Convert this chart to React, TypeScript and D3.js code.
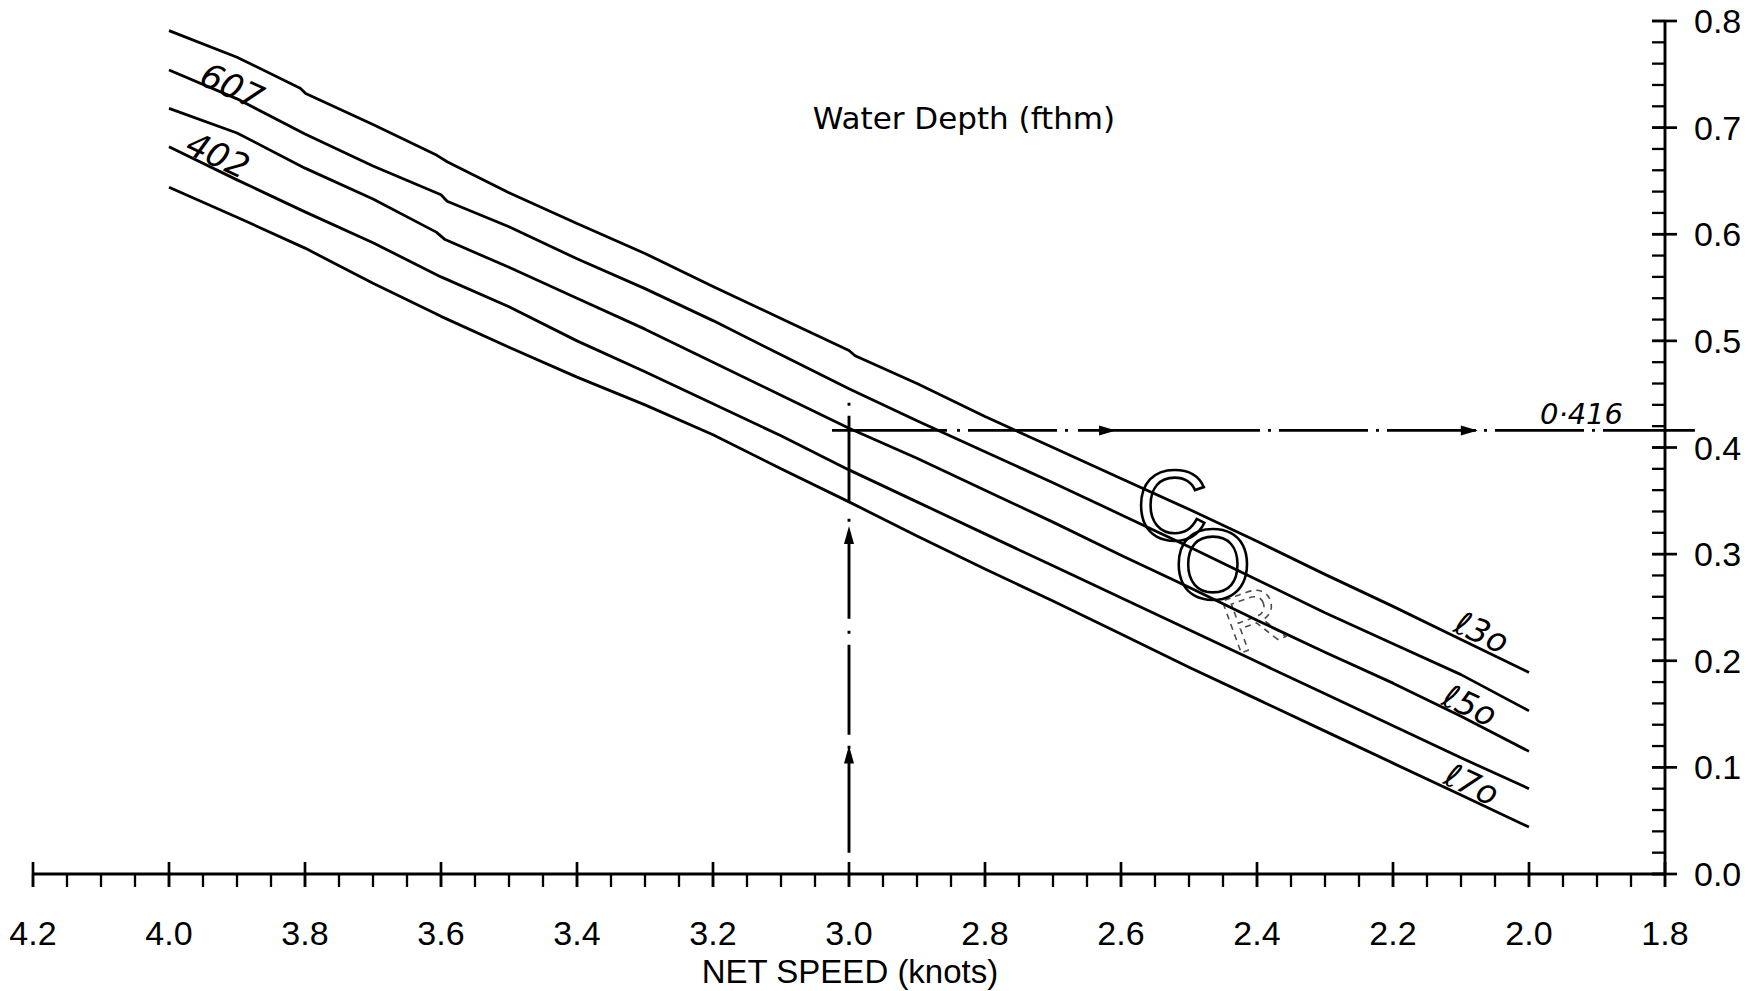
import React from "react";
import * as d3 from "d3";

// ---- axis ticks ----
const xTickValues = [4.2, 4.0, 3.8, 3.6, 3.4, 3.2, 3.0, 2.8, 2.6, 2.4, 2.2, 2.0, 1.8];
const xTickLabels = ["4.2", "4.0", "3.8", "3.6", "3.4", "3.2", "3.0", "2.8", "2.6", "2.4", "2.2", "2.0", "1.8"];
const yTickValues = [0.0, 0.1, 0.2, 0.3, 0.4, 0.5, 0.6, 0.7, 0.8];
const yTickLabels = ["0.0", "0.1", "0.2", "0.3", "0.4", "0.5", "0.6", "0.7", "0.8"];

// ---- curves (net speed in knots, y value) ----
const lineAx = [4.0, 3.9, 3.807, 3.799, 3.7, 3.606, 3.591, 3.5, 3.4, 3.3, 3.2, 3.1, 3.0, 2.991, 2.9, 2.8, 2.7, 2.6, 2.5, 2.4, 2.3, 2.2, 2.1, 2.0];
const lineAy = [0.791, 0.766, 0.737, 0.732, 0.703, 0.674, 0.668, 0.639, 0.610, 0.582, 0.551, 0.521, 0.491, 0.486, 0.460, 0.429, 0.400, 0.371, 0.342, 0.312, 0.281, 0.251, 0.220, 0.189];

const lineBx = [4.0, 3.9, 3.8, 3.7, 3.6, 3.591, 3.5, 3.4, 3.3, 3.2, 3.1, 3.0, 2.9, 2.8, 2.7, 2.6, 2.5, 2.4, 2.3, 2.2, 2.1, 2.0];
const lineBy = [0.754, 0.727, 0.694, 0.664, 0.637, 0.631, 0.607, 0.577, 0.549, 0.519, 0.487, 0.455, 0.425, 0.396, 0.367, 0.337, 0.307, 0.276, 0.245, 0.216, 0.187, 0.153];

const lineCx = [4.0, 3.9, 3.8, 3.7, 3.607, 3.594, 3.5, 3.4, 3.3, 3.2, 3.1, 3.0, 2.9, 2.8, 2.7, 2.6, 2.5, 2.4, 2.3, 2.2, 2.1, 2.0];
const lineCy = [0.718, 0.695, 0.662, 0.633, 0.602, 0.595, 0.569, 0.540, 0.511, 0.480, 0.449, 0.418, 0.390, 0.360, 0.330, 0.299, 0.269, 0.238, 0.208, 0.179, 0.148, 0.115];

const lineDEx = [4.0, 3.9, 3.8, 3.7, 3.6, 3.5, 3.4, 3.3, 3.2, 3.1, 3.0, 2.9, 2.8, 2.7, 2.6, 2.5, 2.4, 2.3, 2.2, 2.1, 2.0];
const lineDy = [0.682, 0.651, 0.621, 0.592, 0.560, 0.532, 0.500, 0.471, 0.441, 0.411, 0.379, 0.349, 0.319, 0.289, 0.259, 0.229, 0.199, 0.169, 0.139, 0.109, 0.080];
const lineEy = [0.644, 0.616, 0.587, 0.554, 0.523, 0.494, 0.466, 0.440, 0.412, 0.380, 0.349, 0.317, 0.286, 0.256, 0.225, 0.194, 0.164, 0.134, 0.104, 0.074, 0.044];

// ---- reading guide ----
const readSpeed = 3.0;
const readValue = 0.416;
const readValueLabel = "0·416";

const W = 1760;
const H = 991;

export default function App() {
  const x = d3.scaleLinear().domain([4.2, 1.8]).range([33, 1665]);
  const y = d3.scaleLinear().domain([0, 0.8]).range([874, 21]);

  const line = d3
    .line<[number, number]>()
    .x((d) => x(d[0]))
    .y((d) => y(d[1]));

  const zip = (xs: number[], ys: number[]) => xs.map((v, i) => [v, ys[i]] as [number, number]);
  const curves = [
    zip(lineAx, lineAy),
    zip(lineBx, lineBy),
    zip(lineCx, lineCy),
    zip(lineDEx, lineDy),
    zip(lineDEx, lineEy),
  ];

  const xMinor = d3.range(0, 49).map((i) => 4.2 - i * 0.05);
  const yMinor = d3.range(0, 41).map((i) => i * 0.02);

  const axisY = y(0);
  const axisX = x(1.8);
  const font = "'Liberation Sans', Arial, sans-serif";
  const hand = "'DejaVu Sans', sans-serif";

  // guide geometry
  const gx = x(readSpeed);
  const gy = y(readValue);
  const hStart = x(3.025);
  const hEnd = x(1.756);
  const vTop = y(0.442);
  const vBottom = y(0.02);

  const arrowRight = (cx: number, cy: number) =>
    `M${cx + 8},${cy} L${cx - 9},${cy - 5} L${cx - 9},${cy + 5} Z`;
  const arrowUp = (cx: number, cy: number) =>
    `M${cx},${cy - 9} L${cx - 5},${cy + 9} L${cx + 5},${cy + 9} Z`;

  return (
    <svg
      width={W}
      height={H}
      viewBox={`0 0 ${W} ${H}`}
      style={{ position: "absolute", left: 0, top: 0, background: "#fff" }}
    >
      <rect x={0} y={0} width={W} height={H} fill="#fff" />

      {/* curves */}
      {curves.map((c, i) => (
        <path
          key={i}
          d={line(c) || ""}
          fill="none"
          stroke="#000"
          strokeWidth={2.8}
          strokeLinejoin="round"
        />
      ))}

      {/* x axis */}
      <line x1={x(4.2)} x2={axisX} y1={axisY} y2={axisY} stroke="#000" strokeWidth={2.8} />
      {xMinor.map((v, i) => (
        <line key={"xm" + i} x1={x(v)} x2={x(v)} y1={axisY} y2={axisY + 13} stroke="#000" strokeWidth={2.3} />
      ))}
      {xTickValues.map((v, i) => (
        <line key={"xM" + i} x1={x(v)} x2={x(v)} y1={axisY - 12} y2={axisY + 13} stroke="#000" strokeWidth={2.7} />
      ))}
      {xTickValues.map((v, i) => (
        <text
          key={"xl" + i}
          x={x(v)}
          y={945}
          textAnchor="middle"
          fontFamily={font}
          fontSize={34}
          fill="#000"
        >
          {xTickLabels[i]}
        </text>
      ))}
      <text x={850} y={983} textAnchor="middle" fontFamily={font} fontSize={33} fill="#000">
        NET SPEED (knots)
      </text>

      {/* y axis (right) */}
      <line x1={axisX} x2={axisX} y1={y(0.8)} y2={axisY} stroke="#000" strokeWidth={2.9} />
      {yMinor.map((v, i) => (
        <line key={"ym" + i} x1={axisX - 13} x2={axisX} y1={y(v)} y2={y(v)} stroke="#000" strokeWidth={2.3} />
      ))}
      {yTickValues.map((v, i) => (
        <line key={"yM" + i} x1={axisX - 13} x2={axisX + 12} y1={y(v)} y2={y(v)} stroke="#000" strokeWidth={2.7} />
      ))}
      {yTickValues.map((v, i) => (
        <text
          key={"yl" + i}
          x={1694}
          y={y(v) + 12}
          textAnchor="start"
          fontFamily={font}
          fontSize={34}
          fill="#000"
        >
          {yTickLabels[i]}
        </text>
      ))}

      {/* title */}
      <text x={964} y={129} textAnchor="middle" fontFamily={hand} fontSize={31} fill="#000">
        Water Depth (fthm)
      </text>

      {/* reading guide: horizontal dash-dot */}
      <line
        x1={hStart}
        x2={hEnd}
        y1={gy}
        y2={gy}
        stroke="#000"
        strokeWidth={2.7}
        strokeDasharray="115 10 3 8 89 8 3 10 182 8 3 8 89 8 3 8 89 8 3 8 89 8 3 8 200"
      />
      <path d={arrowRight(x(2.619), gy)} fill="#000" />
      <path d={arrowRight(x(2.087), gy)} fill="#000" />

      {/* vertical dash-dot */}
      <line
        x1={gx}
        x2={gx}
        y1={vTop}
        y2={vBottom}
        stroke="#000"
        strokeWidth={2.9}
        strokeDasharray="3 10 86 17 3 11 86 12 3 11 90 11 3 10 95 8 3 30"
      />
      <path d={arrowUp(gx, y(0.318))} fill="#000" />
      <path d={arrowUp(gx, y(0.112))} fill="#000" />

      {/* handwritten annotations */}
      <text x={1540} y={424} fontFamily={hand} fontStyle="italic" fontSize={29} fill="#000">
        {readValueLabel}
      </text>
      <text x={232} y={98} textAnchor="middle" fontFamily={hand} fontStyle="italic" fontSize={34} fill="#000"
        transform="rotate(25 232 86)">607</text>
      <text x={218} y={167} textAnchor="middle" fontFamily={hand} fontStyle="italic" fontSize={34} fill="#000"
        transform="rotate(25 218 155)">402</text>
      <text x={1482} y={644} textAnchor="middle" fontFamily={hand} fontStyle="italic" fontSize={33} fill="#000"
        transform="rotate(25 1482 632)">ℓ3o</text>
      <text x={1470} y={717} textAnchor="middle" fontFamily={hand} fontStyle="italic" fontSize={33} fill="#000"
        transform="rotate(25 1470 705)">ℓ5o</text>
      <text x={1472} y={796} textAnchor="middle" fontFamily={hand} fontStyle="italic" fontSize={33} fill="#000"
        transform="rotate(25 1472 784)">ℓ7o</text>

      {/* stamp letters */}
      <text x={1172} y={540} textAnchor="middle" fontFamily={font} fontSize={100} fill="none" stroke="#000" strokeWidth={2.6}>
        C
      </text>
      <text x={1213} y={599} textAnchor="middle" fontFamily={font} fontSize={100} fill="none" stroke="#000" strokeWidth={2.6}>
        O
      </text>
      <text x={1252} y={647} textAnchor="middle" fontFamily={font} fontSize={80} fill="none" stroke="#000" strokeWidth={1.6}
        strokeDasharray="6 5" opacity={0.7} transform="rotate(-20 1252 617)">
        R
      </text>
    </svg>
  );
}
